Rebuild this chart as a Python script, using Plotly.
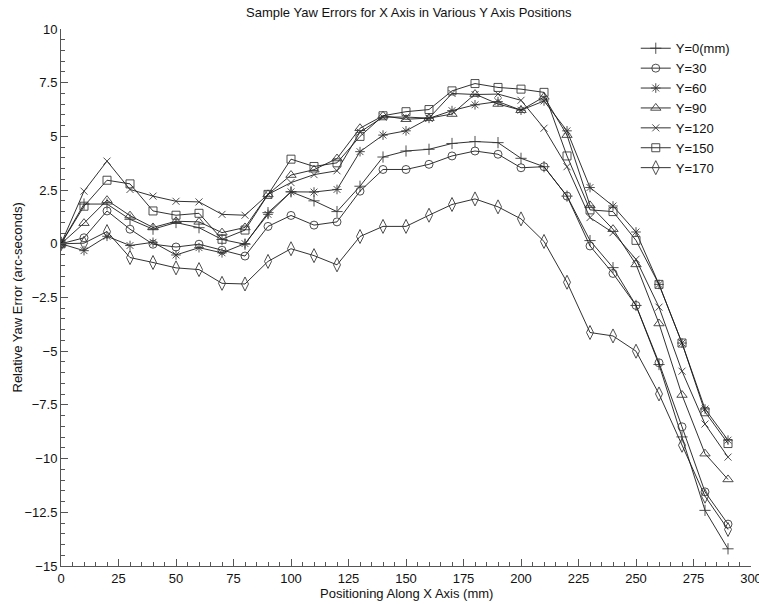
import plotly.graph_objects as go

x_mm = [0, 10, 20, 30, 40, 50, 60, 70, 80, 90, 100, 110, 120, 130, 140,
        150, 160, 170, 180, 190, 200, 210, 220, 230, 240, 250, 260, 270, 280, 290]

y0 = [0, 1.85, 1.85, 1.14, 0.68, 0.99, 0.75, 0.2, -0.02, 1.45, 2.42, 2.0, 1.5, 2.68, 4.04,
      4.32, 4.4, 4.67, 4.76, 4.71, 3.98, 3.59, 2.22, 0.15, -1.11, -2.87, -5.62, -8.99, -12.41, -14.2]
y30 = [0, 0.28, 1.53, 0.68, -0.02, -0.15, -0.02, -0.3, -0.57, 0.81, 1.32, 0.87, 1.02, 2.45, 3.46,
       3.46, 3.7, 4.09, 4.32, 4.17, 3.54, 3.59, 2.22, -0.1, -1.38, -2.87, -5.54, -8.52, -11.55, -13.05]
y60 = [0, -0.32, 0.35, -0.08, 0.07, -0.52, -0.18, -0.42, 0.01, 1.37, 2.42, 2.41, 2.53, 4.29, 5.06,
       5.26, 5.84, 6.2, 6.47, 6.62, 6.22, 6.65, 5.26, 2.62, 1.76, 0.55, -1.89, -4.62, -7.69, -9.14]
y90 = [0, 0.96, 2.03, 1.31, 0.76, 1.05, 1.02, 0.52, 0.76, 2.3, 3.2, 3.45, 3.97, 5.38, 5.96,
       5.8, 5.85, 6.04, 6.97, 6.51, 6.22, 6.84, 5.06, 1.79, 0.68, -0.96, -3.71, -7.04, -9.77, -10.97]
y120 = [0, 2.45, 3.85, 2.53, 2.22, 1.98, 1.95, 1.37, 1.33, 2.3, 2.85, 3.22, 3.4, 5.2, 5.9,
        5.9, 5.85, 7.0, 6.95, 6.97, 6.68, 5.38, 3.59, 1.22, 0.52, -0.72, -2.95, -5.93, -8.39, -9.93]
y150 = [0, 1.75, 2.96, 2.79, 1.53, 1.33, 1.42, 0.21, 0.64, 2.3, 3.94, 3.6, 3.77, 5.0, 5.96,
        6.15, 6.25, 7.12, 7.46, 7.28, 7.2, 7.05, 4.09, 1.58, 1.5, 0.16, -1.89, -4.62, -7.82, -9.3]
y170 = [0, 0.03, 0.57, -0.64, -0.87, -1.12, -1.2, -1.84, -1.87, -0.82, -0.23, -0.55, -0.98, 0.34, 0.81,
        0.81, 1.33, 1.83, 2.09, 1.72, 1.16, 0.11, -1.79, -4.13, -4.29, -5.0, -6.99, -9.38, -11.75, -13.3]

names = ["Y=0(mm)", "Y=30", "Y=60", "Y=90", "Y=120", "Y=150", "Y=170"]
series = [y0, y30, y60, y90, y120, y150, y170]
symbols = ["cross-thin-open", "circle-open", "asterisk-open", "triangle-up-open",
           "x-thin-open", "square-open", "diamond-tall-open"]
sizes = [8, 8, 8, 9, 7, 8, 10]

fig = go.Figure()
for nm, ys, sym, sz in zip(names, series, symbols, sizes):
    fig.add_trace(go.Scatter(
        x=x_mm, y=ys, name=nm, mode="lines+markers",
        line=dict(color="#1a1a1a", width=0.9),
        marker=dict(symbol=sym, size=sz, color="#3a3a3a",
                    line=dict(width=0.9, color="#3a3a3a")),
    ))

font = "Liberation Sans, Arial, sans-serif"
fig.update_layout(
    width=759, height=604,
    margin=dict(l=61, r=8, t=29, b=38),
    paper_bgcolor="white", plot_bgcolor="white",
    font=dict(family=font, size=12, color="#111"),
    showlegend=True,
    legend=dict(x=0.833, y=0.992, xanchor="left", yanchor="top",
                bgcolor="rgba(0,0,0,0)", font=dict(size=13), tracegroupgap=0),
    annotations=[
        dict(text="Sample Yaw Errors for X Axis in Various Y Axis Positions",
             xref="paper", yref="paper", x=0.505, y=1, yshift=17,
             xanchor="center", yanchor="middle", showarrow=False,
             font=dict(size=13)),
        dict(text="Positioning Along X Axis (mm)", xref="paper", yref="paper",
             x=0.5, y=0, yshift=-27, xanchor="center", yanchor="middle",
             showarrow=False, font=dict(size=13)),
        dict(text="Relative Yaw Error (arc-seconds)", xref="paper", yref="paper",
             x=0, y=0.5, xshift=-44, xanchor="center", yanchor="middle",
             textangle=-90, showarrow=False, font=dict(size=13)),
    ],
)
fig.update_xaxes(range=[0, 300], dtick=25, tick0=0, ticks="inside", ticklen=7,
                 tickcolor="#555", showline=True, linecolor="#555", linewidth=1,
                 showgrid=False, zeroline=False, automargin=False,
                 ticklabeloverflow="allow", tickfont=dict(size=13),
                 minor=dict(dtick=5, ticks="inside", ticklen=4, tickcolor="#555"))
fig.update_yaxes(range=[-15, 10], dtick=2.5, tick0=0, ticks="inside", ticklen=7,
                 tickcolor="#555", showline=True, linecolor="#555", linewidth=1,
                 showgrid=False, zeroline=False, automargin=False,
                 ticklabeloverflow="allow", tickfont=dict(size=13),
                 minor=dict(dtick=0.5, ticks="inside", ticklen=4, tickcolor="#555"))

fig.write_html("out.html", config={"displayModeBar": False},
               post_script="document.body.style.margin='0px';document.body.style.overflow='hidden';")
